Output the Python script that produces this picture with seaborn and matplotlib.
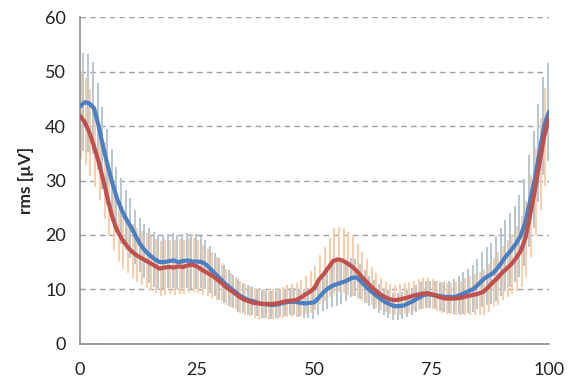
import matplotlib
matplotlib.use('Agg')
import matplotlib.pyplot as plt
import matplotlib.transforms as mtransforms
import numpy as np
import pandas as pd
import seaborn as sns

# normalised time axis (0..100 %)
x_pct = list(range(0, 101))

# blue series: mean rms and standard deviation
blue_mean = [43.6, 44.4, 44.2, 43.3, 40.0, 36.0, 32.5, 29.3, 26.5, 24.4,
             22.7, 21.3, 19.6, 18.1, 17.0, 16.2, 15.5, 15.0, 15.0, 15.2,
             15.3, 15.0, 15.2, 15.3, 15.1, 15.1, 15.0, 14.5, 13.6, 12.7,
             11.9, 11.0, 10.3, 9.6, 8.9, 8.4, 8.0, 7.8, 7.5, 7.3,
             7.2, 7.1, 7.2, 7.4, 7.6, 7.7, 7.7, 7.5, 7.4, 7.5,
             7.6, 8.5, 9.5, 10.2, 10.7, 11.0, 11.3, 11.6, 12.1, 12.2,
             11.4, 10.5, 9.7, 9.0, 8.3, 7.7, 7.3, 6.9, 6.9, 7.0,
             7.4, 7.8, 8.3, 8.8, 9.1, 9.0, 8.9, 8.7, 8.6, 8.6,
             8.6, 8.9, 9.3, 9.7, 10.1, 10.9, 11.8, 12.4, 12.9, 13.8,
             15.0, 16.2, 17.2, 18.4, 19.8, 22.3, 26.2, 30.2, 35.0, 40.0,
             42.6]
blue_sd = [8.5, 9.0, 9.0, 8.5, 8.0, 7.5, 7.0, 6.5, 6.0, 6.0,
           5.5, 5.5, 5.0, 5.0, 5.0, 5.0, 5.0, 5.0, 5.0, 5.0,
           5.0, 5.0, 5.0, 5.0, 5.0, 5.0, 4.8, 4.5, 4.3, 4.0,
           3.8, 3.5, 3.3, 3.0, 3.0, 2.8, 2.7, 2.6, 2.5, 2.5,
           2.5, 2.5, 2.5, 2.5, 2.5, 2.5, 2.5, 2.6, 2.7, 2.8,
           3.0, 3.3, 3.5, 3.8, 4.0, 4.0, 4.0, 3.8, 3.6, 3.4,
           3.2, 3.0, 2.8, 2.7, 2.6, 2.5, 2.5, 2.5, 2.5, 2.5,
           2.5, 2.5, 2.5, 2.5, 2.5, 2.5, 2.6, 2.7, 2.8, 3.0,
           3.2, 3.5, 3.8, 4.0, 4.3, 4.6, 5.0, 5.3, 5.6, 6.0,
           6.2, 6.5, 6.8, 7.0, 7.5, 8.0, 8.5, 9.0, 9.0, 9.0,
           9.0]

# red series: mean rms and standard deviation
red_mean = [41.9, 40.8, 38.9, 36.3, 33.4, 30.0, 26.3, 23.0, 20.7, 19.2,
            18.0, 17.0, 16.3, 15.8, 15.3, 14.8, 14.3, 13.8, 14.0, 14.1,
            14.0, 14.2, 14.1, 14.4, 14.5, 14.2, 13.6, 13.1, 12.6, 12.0,
            11.3, 10.5, 9.9, 9.3, 8.6, 8.1, 7.8, 7.5, 7.4, 7.3,
            7.3, 7.3, 7.4, 7.6, 7.8, 7.9, 8.0, 8.4, 9.0, 9.5,
            10.2, 11.8, 12.8, 14.0, 15.2, 15.5, 15.3, 14.8, 14.2, 13.4,
            12.4, 11.5, 10.6, 9.8, 9.1, 8.6, 8.2, 8.0, 8.1, 8.3,
            8.5, 8.8, 9.0, 9.2, 9.3, 9.1, 8.8, 8.5, 8.3, 8.3,
            8.3, 8.4, 8.6, 8.8, 9.0, 9.2, 9.5, 10.3, 11.2, 12.0,
            13.0, 13.8, 14.6, 15.7, 17.0, 19.3, 23.5, 28.0, 33.0, 38.0,
            41.4]
red_sd = [8.0, 8.0, 8.0, 7.5, 7.0, 7.0, 6.5, 6.0, 5.5, 5.5,
          5.0, 5.0, 5.0, 5.0, 5.0, 5.0, 5.0, 5.0, 5.0, 5.0,
          5.0, 5.0, 5.0, 5.0, 5.0, 4.8, 4.6, 4.4, 4.2, 4.0,
          3.5, 3.3, 3.1, 3.0, 2.9, 2.8, 2.8, 2.8, 2.8, 2.8,
          2.8, 2.8, 2.8, 2.8, 2.9, 3.0, 3.1, 3.3, 3.5, 3.8,
          4.0, 4.5, 5.0, 5.5, 6.0, 6.0, 6.0, 5.8, 5.5, 5.0,
          4.5, 4.0, 3.5, 3.2, 3.0, 2.8, 2.8, 2.8, 2.8, 2.8,
          2.8, 2.8, 2.8, 2.8, 2.8, 2.8, 2.8, 2.8, 2.8, 2.8,
          3.0, 3.2, 3.4, 3.6, 3.8, 4.0, 4.2, 4.4, 4.5, 4.8,
          5.0, 5.2, 5.5, 6.0, 6.5, 7.0, 7.5, 8.0, 8.5, 9.0,
          9.0]

df = pd.DataFrame({'x': x_pct * 2,
                   'rms': blue_mean + red_mean,
                   'series': ['blue'] * len(x_pct) + ['red'] * len(x_pct)})

sns.set_style('white')
plt.rcParams['font.family'] = ['Lato', 'DejaVu Sans']

fig = plt.figure(figsize=(5.71, 3.87), dpi=100)
ax = fig.add_axes([0.140, 0.112, 0.821, 0.843])

# error bars, shifted a little so the two colours interleave
shift_l = mtransforms.offset_copy(ax.transData, fig=fig, x=-1.15, y=0, units='dots')
shift_r = mtransforms.offset_copy(ax.transData, fig=fig, x=1.15, y=0, units='dots')
ax.errorbar(x_pct, blue_mean, yerr=blue_sd, fmt='none', ecolor='#b8c6d0',
            elinewidth=1.4, capsize=0, transform=shift_l, zorder=2)
ax.errorbar(x_pct, red_mean, yerr=red_sd, fmt='none', ecolor='#f9cdab',
            elinewidth=1.4, capsize=0, transform=shift_r, zorder=2)

sns.lineplot(data=df, x='x', y='rms', hue='series',
             palette={'blue': '#4a7fc1', 'red': '#c0504d'},
             linewidth=3.0, legend=False, ax=ax, zorder=4)

ax.set_xlim(0, 100)
ax.set_ylim(0, 60)
ax.set_xticks([0, 25, 50, 75, 100])
ax.set_yticks([0, 10, 20, 30, 40, 50, 60])
ax.set_xlabel('')
ax.set_ylabel('rms [µV]', fontsize=12.5, fontweight='bold', labelpad=8)

ax.yaxis.grid(True, linestyle=(0, (4, 3)), color='#a0a0a0', linewidth=1.0)
ax.set_axisbelow(True)
for s in ['top', 'right']:
    ax.spines[s].set_visible(False)
for s in ['left', 'bottom']:
    ax.spines[s].set_color('#8c8c8c')
    ax.spines[s].set_linewidth(1.2)
ax.tick_params(axis='both', direction='out', length=6, width=1.2,
               color='#8c8c8c', labelsize=13, labelcolor='#222222', pad=4)
ax.tick_params(axis='x', pad=7)

fig.savefig('out.png', dpi=100)
